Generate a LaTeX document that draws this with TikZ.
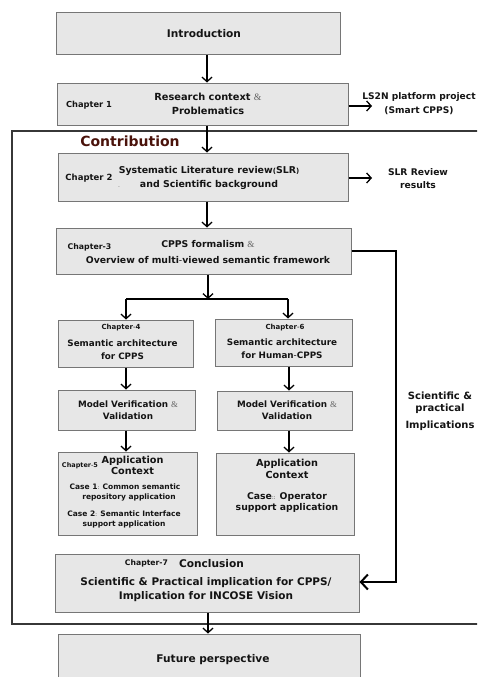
\documentclass[tikz,border=0pt]{standalone}
\usepackage{fontspec}
\setmainfont{DejaVu Sans}
\newfontfamily\ampfont{Liberation Serif}
\usetikzlibrary{arrows.meta}
\definecolor{boxfill}{RGB}{231,231,231}
\definecolor{boxborder}{RGB}{118,118,118}
\definecolor{framecol}{RGB}{55,55,55}
\definecolor{contribcol}{RGB}{74,18,10}
\definecolor{txt}{RGB}{20,20,20}
\newcommand{\fs}[2]{\fontsize{#1}{#2}\selectfont}
\newcommand{\samp}{{\ampfont\mdseries\color{black!60}\&}}
\newcommand{\scol}{{\fontsize{5}{5}\selectfont\mdseries :}}
\begin{document}
\begin{tikzpicture}[x=1pt,y=-1pt,
  box/.style={draw=boxborder, fill=boxfill, line width=1pt, inner sep=0pt},
  lbl/.style={text=txt, font=\bfseries, inner sep=0pt, align=center},
  arr/.style={draw=black, line width=1.3pt, -{Straight Barb[length=4.5pt,width=10pt]}},
  fbarr/.style={draw=black, line width=2pt, -{Straight Barb[length=7pt,width=15pt]}}]
\useasboundingbox (0,0) rectangle (477,677);
\clip (0,0) rectangle (477,677);

% contribution frame
\draw[framecol, line width=1.3pt] (490,131) -- (12,131) -- (12,624) -- (490,624);
\node[lbl, text=contribcol, font=\bfseries\fs{14}{16}] (contrib) at (130,141) {Contribution};

% boxes
\node[box, minimum width=284pt, minimum height=42pt] (intro) at (198,34) {};
\node[box, minimum width=291pt, minimum height=42pt] (ch1) at (202.5,104) {};
\node[box, minimum width=290pt, minimum height=48pt] (ch2) at (203,177) {};
\node[box, minimum width=295pt, minimum height=46pt] (ch3) at (203.5,251) {};
\node[box, minimum width=135pt, minimum height=47pt] (ch4) at (125.5,343.5) {};
\node[box, minimum width=137pt, minimum height=47pt] (ch6) at (283.5,342.5) {};
\node[box, minimum width=137pt, minimum height=40pt] (mv1) at (126.5,410) {};
\node[box, minimum width=135pt, minimum height=39pt] (mv2) at (284.5,410.5) {};
\node[box, minimum width=139pt, minimum height=83pt] (app1) at (127.5,493.5) {};
\node[box, minimum width=138pt, minimum height=82pt] (app2) at (285,494) {};
\node[box, minimum width=304pt, minimum height=58pt] (concl) at (207,583) {};
\node[box, minimum width=302pt, minimum height=52pt] (future) at (209,660) {};

% texts
\node[lbl, font=\bfseries\fs{10.6}{12}] (tintro) at (204,34) {Introduction};
\node[lbl, font=\bfseries\fs{9.8}{14}] (tch1) at (208,104) {Research context \samp\\Problematics};
\node[lbl, font=\bfseries\fs{8.3}{10}] (c1) at (89,105) {Chapter 1};
\node[lbl, font=\bfseries\fs{9.4}{14}] (tch2) at (209,178) {Systematic Literature review{\fs{7}{7}(}SLR{\fs{7}{7})}\\and Scientific background};
\node[lbl, font=\bfseries\fs{8.5}{10}] (c2) at (89,178) {Chapter 2};
\node[lbl, font=\fs{5}{5}, text=black!55] (dash) at (119,188) {-};
\node[lbl, font=\bfseries\fs{9.3}{16}] (tch3) at (208,252) {CPPS formalism \samp\\Overview of multi{\mdseries-}viewed semantic framework};
\node[lbl, font=\bfseries\fs{7.8}{9}] (c3) at (89.5,247) {Chapter-3};
\node[lbl, font=\bfseries\fs{7}{8}] (c4) at (121,328) {Chapter{\mdseries-}4};
\node[lbl, font=\bfseries\fs{8.8}{13}] (tch4) at (122.5,349.5) {Semantic architecture\\for CPPS};
\node[lbl, font=\bfseries\fs{7}{8}] (c6) at (285,328) {Chapter{\mdseries-}6};
\node[lbl, font=\bfseries\fs{8.8}{13}] (tch6) at (282,349) {Semantic architecture\\for Human{\mdseries-}CPPS};
\node[lbl, font=\bfseries\fs{8.8}{12}] (tmv1) at (128,410) {Model Verification \samp\\Validation};
\node[lbl, font=\bfseries\fs{8.8}{12}] (tmv2) at (287,410) {Model Verification \samp\\Validation};
\node[lbl, font=\bfseries\fs{9.7}{11}] (tapp1) at (132.5,465.5) {Application\\Context};
\node[lbl, font=\bfseries\fs{6.5}{7}] (c5) at (80,466) {Chapter{\mdseries-}5};
\node[lbl, font=\bfseries\fs{7.5}{10}] (case1) at (125,492) {Case 1\scol{} Common semantic\\\hspace*{8pt}repository application};
\node[lbl, font=\bfseries\fs{7.5}{10}] (case2) at (124,519) {Case 2\scol{} Semantic Interface\\support application};
\node[lbl, font=\bfseries\fs{9.7}{12}] (tapp2) at (287,469) {Application\\Context};
\node[lbl, font=\bfseries\fs{9.3}{11}] (case3) at (287,503) {Case{\fs{5}{5}\mdseries ::} Operator\\support application};
\node[lbl, font=\bfseries\fs{7.7}{9}] (c7) at (146.5,563) {Chapter-7};
\node[lbl, font=\bfseries\fs{10.6}{12}] (tconcl) at (211.5,564) {Conclusion};
\node[lbl, font=\bfseries\fs{10.5}{14}] (tconcl2) at (206,590) {Scientific \& Practical implication for CPPS/\\Implication for INCOSE Vision};
\node[lbl, font=\bfseries\fs{10.6}{12}] (tfuture) at (213,660) {Future perspective};

% side texts
\node[lbl, font=\bfseries\fs{9.1}{14}] (ls2n) at (419,104) {LS2N platform project\\(Smart CPPS)};
\node[lbl, font=\bfseries\fs{9.2}{13}] (slr) at (418,178.5) {SLR Review\\results};
\node[lbl, font=\bfseries\fs{10}{11.5}] (impl1) at (440,402.5) {Scientific \&\\practical};
\node[lbl, font=\bfseries\fs{10}{12}] (impl2) at (440,426) {Implications};

% connector helper coordinates
\coordinate (ls2nin) at (372,106);
\coordinate (slrin) at (372,178);
\coordinate (jn) at (208,299);
\coordinate (jl) at (126,299);
\coordinate (jr) at (288,299);
\coordinate (fb1) at (396,251);
\coordinate (fb2) at (396,582);

% connectors
\draw[arr] (intro.south -| 207,0) -- (ch1.north -| 207,0);
\draw[arr] (ch1.south -| 207,0) -- (ch2.north -| 207,0);
\draw[arr] (ch2.south -| 207,0) -- (ch3.north -| 207,0);
\draw[arr] (ch1.east |- ls2nin) -- (ls2nin);
\draw[arr] (ch2.east |- slrin) -- (slrin);
\draw[arr] (ch3.south -| jn) -- (jn);
\draw[line width=1.3pt] (jl) -- (jr);
\draw[arr] (jl) -- (ch4.north -| jl);
\draw[arr] (jr) -- (ch6.north -| jr);
\draw[arr] (ch4.south -| 126,0) -- (mv1.north -| 126,0);
\draw[arr] (ch6.south -| 289,0) -- (mv2.north -| 289,0);
\draw[arr] (mv1.south -| 126,0) -- (app1.north -| 126,0);
\draw[arr] (mv2.south -| 289,0) -- (app2.north -| 289,0);
\draw[arr] (concl.south -| 208,0) -- (future.north -| 208,0);
\draw[fbarr] (ch3.east) -- (fb1) -- (fb2) -- (concl.east |- fb2);
\end{tikzpicture}
\end{document}
